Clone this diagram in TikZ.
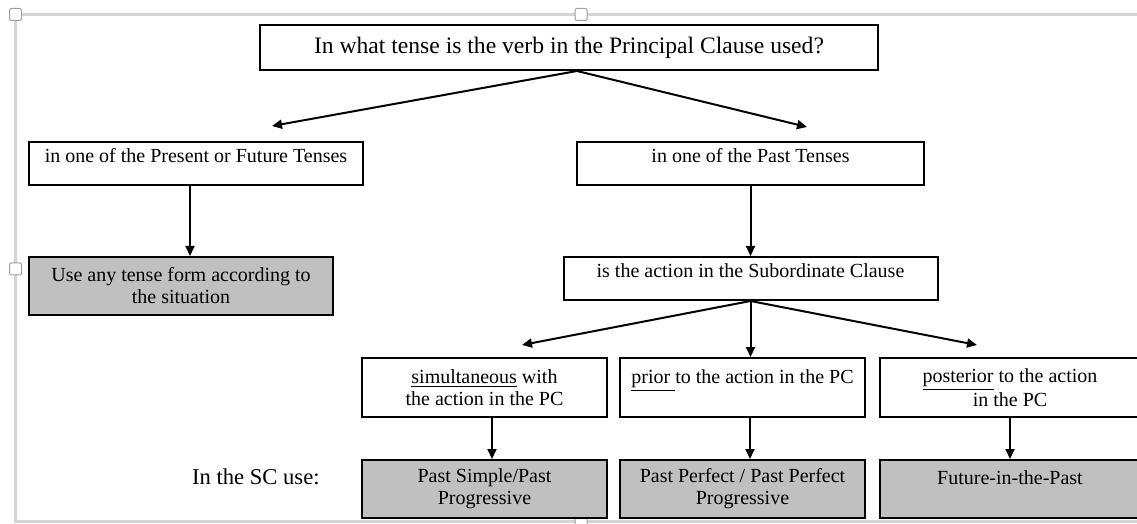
\documentclass[tikz,border=0pt]{standalone}
\usepackage{fontspec}
\setmainfont{Liberation Serif}
\usetikzlibrary{arrows.meta, positioning}
\definecolor{grisCaja}{RGB}{192,192,192}
\definecolor{grisMarco}{RGB}{212,212,212}
\tikzset{
  dg/box/.style={rectangle, draw=black, fill=white, line width=1pt,
    font=\fontsize{10}{11}\selectfont, align=center, inner sep=2pt},
  dg/one/.style={dg/box, inner ysep=0pt, text height=10.3pt, text depth=11.2pt},
  dg/sc/.style={dg/box, minimum width=122.5pt, minimum height=29.5pt},
  dg/use/.style={dg/sc, fill=grisCaja, minimum height=29pt},
  dg/arr/.style={-{Triangle[length=5pt,width=4.5pt]}, line width=1pt},
  dg/lbl/.style={font=\fontsize{11.3}{12}\selectfont, inner sep=0pt},
  dg/frame/.style={draw=grisMarco, line width=1.2pt},
  dg/handle/.style={draw=grisMarco!75!black, fill=white, line width=0.5pt,
    rounded corners=1pt, minimum size=6pt, inner sep=0pt}
}
\begin{document}
\begin{tikzpicture}[x=0.5pt, y=-0.5pt]
  \useasboundingbox (0,0) rectangle (1137,524);
  % selection frame
  \draw[dg/frame] (1137,14.5) -- (15.5,14.5) -- (15.5,521.5) -- (1137,521.5);
  \node[dg/handle] (h1) at (15.5,14.5) {};
  \node[dg/handle] (h2) at (581,14.5) {};
  \node[dg/handle] (h3) at (15.5,269) {};
  \node[dg/handle] (h4) at (581,521.5) {};

  % question and tenses
  \node[dg/box, minimum width=309pt, minimum height=22.5pt,
    font=\fontsize{11.8}{13}\selectfont] (q) at (569,47.5)
    {In what tense is the verb in the Principal Clause used?};
  \node[dg/one, minimum width=167pt] (pf) at (196,163.5)
    {in one of the Present or Future Tenses};
  \node[dg/one, minimum width=173.5pt] (past) at (750.5,163.5)
    {in one of the Past Tenses};
  \node[dg/box, fill=grisCaja, minimum width=152pt, minimum height=29pt,
    below=35pt of pf, xshift=-7.5pt] (any)
    {Use any tense form according to\\the situation};
  \node[dg/one, minimum width=187pt, below=35pt of past] (sub)
    {is the action in the Subordinate Clause};

  % subordinate clause
  \node[dg/sc] (sim) at (484.5,387.5) {\underline{simultaneous} with\\the action in the PC};
  \node[dg/sc, right=5.5pt of sim] (prior) {\underline{prior\ }to the action in the PC\\~};
  \node[dg/sc, minimum width=130pt, right=6.5pt of prior] (post)
    {\underline{posterior} to the action\\in the PC};
  \node[dg/use, below=20.5pt of sim] (ps) {Past Simple/Past\\Progressive};
  \node[dg/use, below=20.5pt of prior] (pp) {Past Perfect / Past Perfect\\Progressive};
  \node[dg/use, minimum width=130pt, below=20.5pt of post] (fp) {Future-in-the-Past\\~};
  \node[dg/lbl, left=20.5pt of ps, yshift=6pt] (use) {In the SC use:};

  \coordinate (tl) at (272,126);
  \coordinate (tr) at (807,127);
  \coordinate (sl) at (522,345);
  \coordinate (sr) at (977,345);

  \draw[dg/arr] ([xshift=4pt]q.south) -- (tl);
  \draw[dg/arr] ([xshift=4pt]q.south) -- (tr);
  \draw[dg/arr] ([xshift=-3pt]pf.south) -- ([xshift=-3pt]pf.south |- any.north);
  \draw[dg/arr] (past.south) -- (past.south |- sub.north);
  \draw[dg/arr] (sub.south) -- (sl);
  \draw[dg/arr] (sub.south) -- (sub.south |- prior.north);
  \draw[dg/arr] (sub.south) -- (sr);
  \draw[dg/arr] ([xshift=3.75pt]sim.south) -- ([xshift=3.75pt]ps.north);
  \draw[dg/arr] ([xshift=3.75pt]prior.south) -- ([xshift=3.75pt]pp.north);
  \draw[dg/arr] (post.south) -- (fp.north);
\end{tikzpicture}
\end{document}
